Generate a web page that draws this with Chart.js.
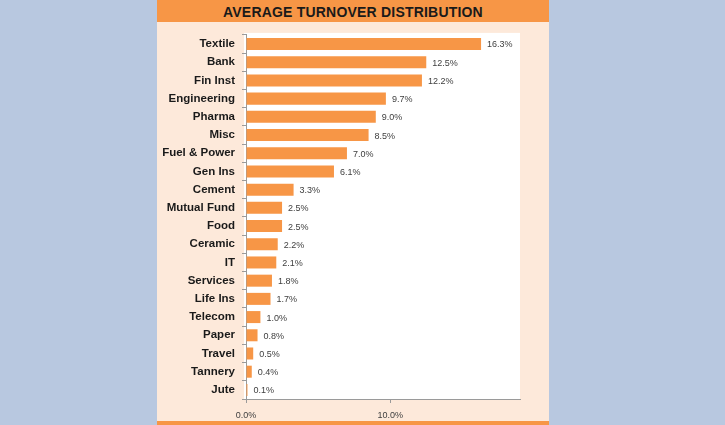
<!DOCTYPE html>
<html><head><meta charset="utf-8">
<script src="https://cdn.jsdelivr.net/npm/chart.js@4"></script>
<style>
html,body{margin:0;padding:0;}
body{width:725px;height:425px;background:#b8c8e0;position:relative;overflow:hidden;}
#panel{position:absolute;left:157px;top:0;width:392px;height:425px;background:#fde9da;}
#title{position:absolute;left:157px;top:0;width:392px;height:22px;background:#f79646;font:bold 14px "Liberation Sans",Arial,sans-serif;color:#1a1a1a;text-align:center;line-height:24px;letter-spacing:0.2px;}
#bottom{position:absolute;left:157px;top:421px;width:392px;height:4px;background:#f79646;}
#wrap{position:absolute;left:157px;top:21px;width:392px;height:400px;}
</style></head><body>
<div id="panel"></div>
<div id="title">AVERAGE TURNOVER DISTRIBUTION</div>
<div id="bottom"></div>
<div id="wrap"><canvas id="c" width="392" height="400"></canvas></div>
<script>
const categories = ["Textile","Bank","Fin Inst","Engineering","Pharma","Misc","Fuel & Power","Gen Ins","Cement","Mutual Fund","Food","Ceramic","IT","Services","Life Ins","Telecom","Paper","Travel","Tannery","Jute"];
const turnoverShare = [16.3,12.5,12.2,9.7,9.0,8.5,7.0,6.1,3.3,2.5,2.5,2.2,2.1,1.8,1.7,1.0,0.8,0.5,0.4,0.1];
const xTickValues = [0,10];

const plotBg = {
  id:'plotBg',
  beforeDraw(chart){
    const {ctx, chartArea:a} = chart;
    ctx.save(); ctx.fillStyle='#ffffff';
    ctx.fillRect(a.left-2, a.top-2, a.right-a.left+2, a.bottom-a.top+2);
    ctx.restore();
  }
};
const valueLabels = {
  id:'valueLabels',
  afterDatasetsDraw(chart){
    const ctx = chart.ctx;
    const meta = chart.getDatasetMeta(0);
    ctx.save();
    ctx.font = '9px "Liberation Sans", Arial, sans-serif';
    ctx.fillStyle = '#404040';
    ctx.textBaseline = 'middle';
    ctx.textAlign = 'left';
    meta.data.forEach((bar,i)=>{
      ctx.fillText(turnoverShare[i].toFixed(1)+'%', bar.x+6, bar.y+1);
    });
    ctx.restore();
  }
};

new Chart(document.getElementById('c'), {
  type:'bar',
  data:{labels:categories, datasets:[{data:turnoverShare, backgroundColor:'#f79646', borderWidth:0, barPercentage:0.66, categoryPercentage:1}]},
  options:{
    indexAxis:'y', responsive:false, animation:false,
    layout:{padding:{top:11,right:29,left:0,bottom:0}},
    plugins:{legend:{display:false}, tooltip:{enabled:false}},
    scales:{
      y:{
        afterFit(s){ s.width = 89; },
        grid:{offset:true, drawOnChartArea:false, tickLength:4, color:'#9a9a9a'},
        border:{color:'#9a9a9a'},
        ticks:{color:'#1a1a1a', padding:7, font:{family:'"Liberation Sans", Arial, sans-serif', size:11.5, weight:'bold'}}
      },
      x:{
        min:0, max:19,
        afterFit(s){ s.height = 22; },
        afterBuildTicks(s){ s.ticks = xTickValues.map(v=>({value:v})); },
        grid:{drawOnChartArea:false, tickLength:4, color:'#9a9a9a'},
        border:{color:'#9a9a9a'},
        ticks:{color:'#404040', padding:7, font:{family:'"Liberation Sans", Arial, sans-serif', size:9}, callback:v=>v.toFixed(1)+'%'}
      }
    }
  },
  plugins:[plotBg, valueLabels]
});
</script></body></html>
